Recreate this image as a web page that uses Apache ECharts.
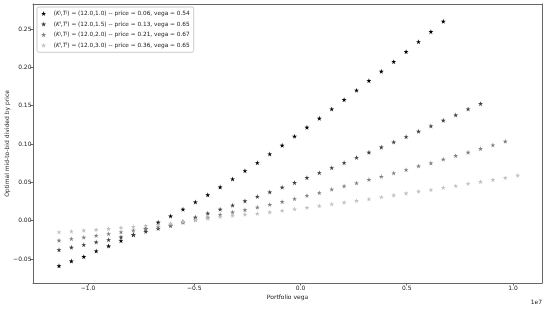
<!DOCTYPE html>
<html>
<head>
<meta charset="utf-8">
<script src="https://cdn.jsdelivr.net/npm/echarts@6/dist/echarts.min.js"></script>
<style>
html,body{margin:0;padding:0;background:#fff;}
#chart{width:545px;height:315px;}
</style>
</head>
<body>
<div id="chart"></div>
<script>
// Portfolio vega grid (x values)
const vegaX = [-11365000, -10782000, -10198000, -9615000, -9031000, -8448000, -7865000, -7281000,
  -6698000, -6114000, -5531000, -4948000, -4364000, -3781000, -3197000, -2614000, -2031000,
  -1447000, -864000, -280000, 303000, 886000, 1470000, 2053000, 2637000, 3220000, 3803000,
  4387000, 4970000, 5554000, 6137000, 6720000, 7304000, 7887000, 8471000, 9054000, 9637000, 10221000];

// Optimal mid-to-bid divided by price, one array per option
const seriesT10 = [-0.0588, -0.0526, -0.0469, -0.0395, -0.0330, -0.0261, -0.0183, -0.0102, -0.0021, 0.0061,
  0.0149, 0.0244, 0.0338, 0.0439, 0.0544, 0.0652, 0.0756, 0.0870, 0.0983, 0.1101, 0.1218, 0.1335,
  0.1457, 0.1578, 0.1701, 0.1826, 0.1948, 0.2074, 0.2204, 0.2334, 0.2465, 0.2600];
const seriesT15 = [-0.0380, -0.0347, -0.0313, -0.0278, -0.0248, -0.0213, -0.0180, -0.0141, -0.0102, -0.0063,
  -0.0010, 0.0044, 0.0097, 0.0149, 0.0202, 0.0258, 0.0316, 0.0374, 0.0436, 0.0496, 0.0561, 0.0626,
  0.0691, 0.0756, 0.0824, 0.0892, 0.0959, 0.1026, 0.1095, 0.1166, 0.1235, 0.1309, 0.1378, 0.1457, 0.1526];
const seriesT20 = [-0.0256, -0.0235, -0.0216, -0.0193, -0.0170, -0.0147, -0.0124, -0.0104, -0.0082, -0.0056,
  -0.0023, 0.0012, 0.0044, 0.0081, 0.0111, 0.0142, 0.0176, 0.0211, 0.0248, 0.0287, 0.0329, 0.0365,
  0.0410, 0.0453, 0.0492, 0.0537, 0.0576, 0.0622, 0.0665, 0.0713, 0.0752, 0.0801, 0.0848, 0.0892,
  0.0939, 0.0987, 0.1035];
const seriesT30 = [-0.0147, -0.0137, -0.0125, -0.0116, -0.0104, -0.0089, -0.0076, -0.0065, -0.0050, -0.0034,
  -0.0010, 0.0014, 0.0029, 0.0052, 0.0068, 0.0083, 0.0094, 0.0113, 0.0133, 0.0153, 0.0172, 0.0194,
  0.0218, 0.0240, 0.0261, 0.0283, 0.0309, 0.0333, 0.0359, 0.0383, 0.0404, 0.0433, 0.0456, 0.0485,
  0.0509, 0.0535, 0.0561, 0.0592];

const strikes = ['12.0', '12.0', '12.0', '12.0'];
const maturities = ['1.0', '1.5', '2.0', '3.0'];
const prices = ['0.06', '0.13', '0.21', '0.36'];
const vegas = ['0.54', '0.65', '0.67', '0.65'];
const colors = ['#000000', '#3f3f3f', '#808080', '#c0c0c0'];
const xTicks = [-10000000, -5000000, 0, 5000000, 10000000];
const yTicks = [-0.05, 0, 0.05, 0.10, 0.15, 0.20, 0.25];

const allSeries = [seriesT10, seriesT15, seriesT20, seriesT30];
const names = maturities.map((t, i) => 'opt' + i);
const star = 'path://M0,-1L0.2245,-0.309L0.9511,-0.309L0.3633,0.118L0.5878,0.809L0,0.382L-0.5878,0.809L-0.3633,0.118L-0.9511,-0.309L-0.2245,-0.309Z';
const FONT = 'DejaVu Sans';
const minus = s => s.replace('-', '\u2212');
const X_MIN = -12588000, X_MAX = 11365000, Y_MIN = -0.0812, Y_MAX = 0.2826;
const frameLine = {show: true, onZero: false, lineStyle: {color: '#666', width: 1}};

const chart = echarts.init(document.getElementById('chart'), null, {renderer: 'canvas'});
chart.setOption({
  animation: false,
  backgroundColor: '#ffffff',
  textStyle: {fontFamily: FONT},
  title: {
    text: '1e7', right: 3, top: 299, padding: 0,
    textStyle: {fontFamily: FONT, fontSize: 6, fontWeight: 'normal', color: '#222'}
  },
  grid: {left: 33, right: 3, top: 4, bottom: 32, containLabel: false, outerBoundsMode: 'none'},
  legend: {
    orient: 'vertical', left: 37, top: 7,
    padding: [3.5, 4, 4, 4],
    itemWidth: 10, itemHeight: 5, itemGap: 4.6,
    backgroundColor: 'rgba(255,255,255,0.8)', borderColor: '#cccccc', borderWidth: 1, borderRadius: 2,
    data: names.map(n => ({name: n, icon: star})),
    formatter: function (name) {
      const i = names.indexOf(name);
      return '({it|K}{sup|i},{it|T}{sup|i}) = (' + strikes[i] + ',' + maturities[i] + ') -- price = ' + prices[i] + ', vega = ' + vegas[i];
    },
    textStyle: {
      fontFamily: FONT, fontSize: 5.8, color: '#222', lineHeight: 6,
      rich: {
        it: {fontFamily: FONT, fontStyle: 'italic', fontSize: 5.8, color: '#222', lineHeight: 6},
        sup: {fontFamily: FONT, fontSize: 4, color: '#222', lineHeight: 6, verticalAlign: 'top'}
      }
    }
  },
  xAxis: [{
    type: 'value', min: X_MIN, max: X_MAX, position: 'bottom',
    name: 'Portfolio vega', nameLocation: 'middle', nameGap: 11.5, nameMoveOverlap: false,
    nameTextStyle: {fontFamily: FONT, fontSize: 6, color: '#222'},
    axisLine: frameLine,
    splitLine: {show: false},
    axisTick: {show: true, length: 2.5, lineStyle: {color: '#666', width: 1}, customValues: xTicks},
    axisLabel: {customValues: xTicks, fontFamily: FONT, fontSize: 6, color: '#222', margin: 2,
      formatter: v => minus((v / 1e7).toFixed(1))}
  }, {
    type: 'value', min: X_MIN, max: X_MAX, position: 'top',
    axisLine: frameLine, axisTick: {show: false}, axisLabel: {show: false}, splitLine: {show: false}
  }],
  yAxis: [{
    type: 'value', min: Y_MIN, max: Y_MAX, position: 'left',
    name: 'Optimal mid-to-bid divided by price', nameLocation: 'middle', nameGap: 23, nameMoveOverlap: false,
    nameTextStyle: {fontFamily: FONT, fontSize: 6, color: '#222'},
    axisLine: frameLine,
    splitLine: {show: false},
    axisTick: {show: true, length: 2.5, lineStyle: {color: '#666', width: 1}, customValues: yTicks},
    axisLabel: {customValues: yTicks, fontFamily: FONT, fontSize: 6, color: '#222', margin: 1.5,
      formatter: v => minus(v.toFixed(2))}
  }, {
    type: 'value', min: Y_MIN, max: Y_MAX, position: 'right',
    axisLine: frameLine, axisTick: {show: false}, axisLabel: {show: false}, splitLine: {show: false}
  }],
  series: allSeries.map((vals, i) => ({
    name: names[i], type: 'scatter', symbol: star, symbolSize: 5,
    xAxisIndex: 0, yAxisIndex: 0,
    itemStyle: {color: colors[i], opacity: 1},
    data: vals.map((v, k) => [vegaX[k], v])
  }))
});
</script>
</body>
</html>
